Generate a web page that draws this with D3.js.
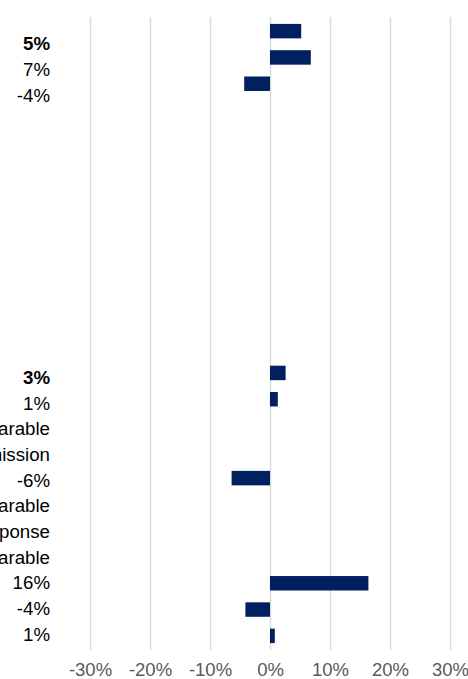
<!DOCTYPE html>
<html>
<head>
<meta charset="utf-8">
<script src="https://cdn.jsdelivr.net/npm/d3@7"></script>
<style>
  body { margin: 0; background: #fff; }
  svg { display: block; font-family: "Liberation Sans", Arial, sans-serif; }
</style>
</head>
<body>
<div id="chart"></div>
<script>
// rows top to bottom; empty strings are blank rows
var rowLabels = ['5%', '7%', '-4%', '', '', '', '', '', '', '', '', '', '',
  '3%', '1%', 'Not comparable', 'Omission', '-6%', 'Not comparable',
  'No response', 'Not comparable', '16%', '-4%', '1%'];
var rowValues = [5.2, 6.8, -4.3, null, null, null, null, null, null, null, null, null, null,
  2.6, 1.3, null, null, -6.4, null, null, null, 16.4, -4.1, 0.8];
var boldRows = [0, 13];
var xTicks = [-30, -20, -10, 0, 10, 20, 30];

var width = 468, height = 679;

var svg = d3.select('#chart').append('svg')
    .attr('width', width)
    .attr('height', height);

var rows = d3.range(rowLabels.length);

var xScale = d3.scaleLinear()
    .domain([-30, 30])
    .range([90, 450]);

var yBar = d3.scaleBand()
    .domain(rows)
    .range([18, 649])
    .paddingInner(0.45)
    .paddingOuter(0.225);

// label column sits on its own grid
var yLabel = d3.scaleBand()
    .domain(rows)
    .range([31, 647]);

var xAxis = d3.axisBottom(xScale)
    .tickValues(xTicks)
    .tickSizeInner(-633)
    .tickSizeOuter(0)
    .tickPadding(13)
    .tickFormat(function(d) { return d + '%'; });

var axis = svg.append('g')
    .attr('class', 'x axis')
    .attr('transform', 'translate(0,650)')
    .call(xAxis);

axis.select('.domain').remove();
axis.selectAll('line')
    .attr('stroke', '#d9d9d9')
    .attr('stroke-width', 1.5);
axis.selectAll('text')
    .attr('fill', '#595959')
    .style('font-size', '18.5px')
    .style('font-family', '"Liberation Sans", Arial, sans-serif');

svg.append('g')
    .selectAll('rect')
    .data(rows.filter(function(i) { return rowValues[i] !== null; }))
  .enter().append('rect')
    .attr('x', function(i) { return xScale(Math.min(0, rowValues[i])); })
    .attr('y', function(i) { return yBar(i); })
    .attr('width', function(i) { return Math.abs(xScale(rowValues[i]) - xScale(0)); })
    .attr('height', yBar.bandwidth())
    .attr('fill', '#002060');

svg.append('g')
    .selectAll('text')
    .data(rows.filter(function(i) { return rowLabels[i] !== ''; }))
  .enter().append('text')
    .attr('x', 50)
    .attr('y', function(i) { return yLabel(i) + yLabel.bandwidth() / 2; })
    .attr('dy', '.35em')
    .style('text-anchor', 'end')
    .style('font-size', '18.7px')
    .style('font-weight', function(i) { return boldRows.indexOf(i) >= 0 ? 'bold' : 'normal'; })
    .attr('fill', '#000')
    .text(function(i) { return rowLabels[i]; });
</script>
</body>
</html>
